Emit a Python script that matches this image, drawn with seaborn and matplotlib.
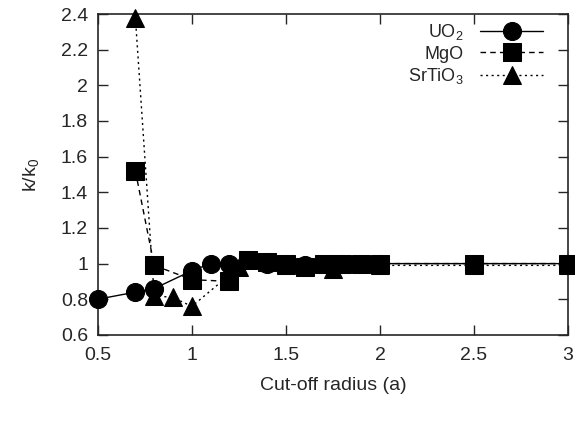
import matplotlib
matplotlib.use("Agg")
import matplotlib.pyplot as plt
import seaborn as sns
import pandas as pd

uo2_x = [0.5, 0.7, 0.8, 1.0, 1.1, 1.2, 1.4, 1.5, 1.6, 1.75, 1.8, 2.0, 2.5, 3.0]
uo2_y = [0.80, 0.84, 0.86, 0.96, 1.00, 1.00, 1.00, 1.00, 0.99, 1.00, 1.00, 1.00, 1.00, 1.00]
mgo_x = [0.7, 0.8, 1.0, 1.2, 1.3, 1.4, 1.5, 1.6, 1.7, 1.8, 1.9, 2.0, 2.5, 3.0]
mgo_y = [1.52, 0.99, 0.91, 0.90, 1.02, 1.01, 1.00, 0.98, 1.00, 1.00, 1.00, 1.00, 1.00, 1.00]
sto_x = [0.7, 0.8, 0.9, 1.0, 1.25, 1.5, 1.75, 2.0, 2.5, 3.0]
sto_y = [2.38, 0.82, 0.81, 0.76, 0.98, 0.99, 0.97, 0.99, 0.99, 0.99]

labels = ["UO$_2$", "MgO", "SrTiO$_3$"]

sns.set_style("ticks")
plt.rcParams["font.family"] = ["Liberation Sans", "DejaVu Sans"]
plt.rcParams["mathtext.fontset"] = "custom"
plt.rcParams["mathtext.rm"] = "Liberation Sans"
plt.rcParams["mathtext.it"] = "Liberation Sans"

fig = plt.figure(figsize=(5.75, 4.25), dpi=100)
ax = fig.add_axes([0.170, 0.212, 0.818, 0.755])

series = [
    (uo2_x, uo2_y, labels[0], "o", "-"),
    (mgo_x, mgo_y, labels[1], "s", (0, (4, 3))),
    (sto_x, sto_y, labels[2], "^", (0, (1.5, 2.5))),
]
for xs, ys, lab, mk, ls in series:
    df = pd.DataFrame({"x": xs, "y": ys})
    sns.lineplot(data=df, x="x", y="y", ax=ax, color="black", marker=mk,
                 markersize=13, markeredgecolor="black", linewidth=1,
                 linestyle=ls, label=lab, estimator=None, sort=False,
                 clip_on=False, zorder=3)

ax.set_xlim(0.5, 3.0)
ax.set_ylim(0.6, 2.4)
ax.set_xticks([0.5, 1, 1.5, 2, 2.5, 3])
ax.set_xticklabels(["0.5", "1", "1.5", "2", "2.5", "3"])
ax.set_yticks([0.6, 0.8, 1.0, 1.2, 1.4, 1.6, 1.8, 2.0, 2.2, 2.4])
ax.set_yticklabels(["0.6", "0.8", "1", "1.2", "1.4", "1.6", "1.8", "2", "2.2", "2.4"])
ax.tick_params(direction="in", top=True, right=True, length=7, labelsize=14, width=1)
ax.tick_params(axis="x", pad=9)
ax.tick_params(axis="y", pad=7)
for s in ax.spines.values():
    s.set_linewidth(1.2)
    s.set_visible(True)
ax.set_xlabel("Cut-off radius (a)", fontsize=14, labelpad=9)
ax.set_ylabel("k/k$_0$", fontsize=14, labelpad=14)

ax.legend(loc="upper right", bbox_to_anchor=(0.947, 0.975), frameon=False,
          markerfirst=False, fontsize=13, handlelength=3.5, labelspacing=0.2,
          borderaxespad=0, handletextpad=0.9, borderpad=0)

fig.savefig("out.png", dpi=100)
